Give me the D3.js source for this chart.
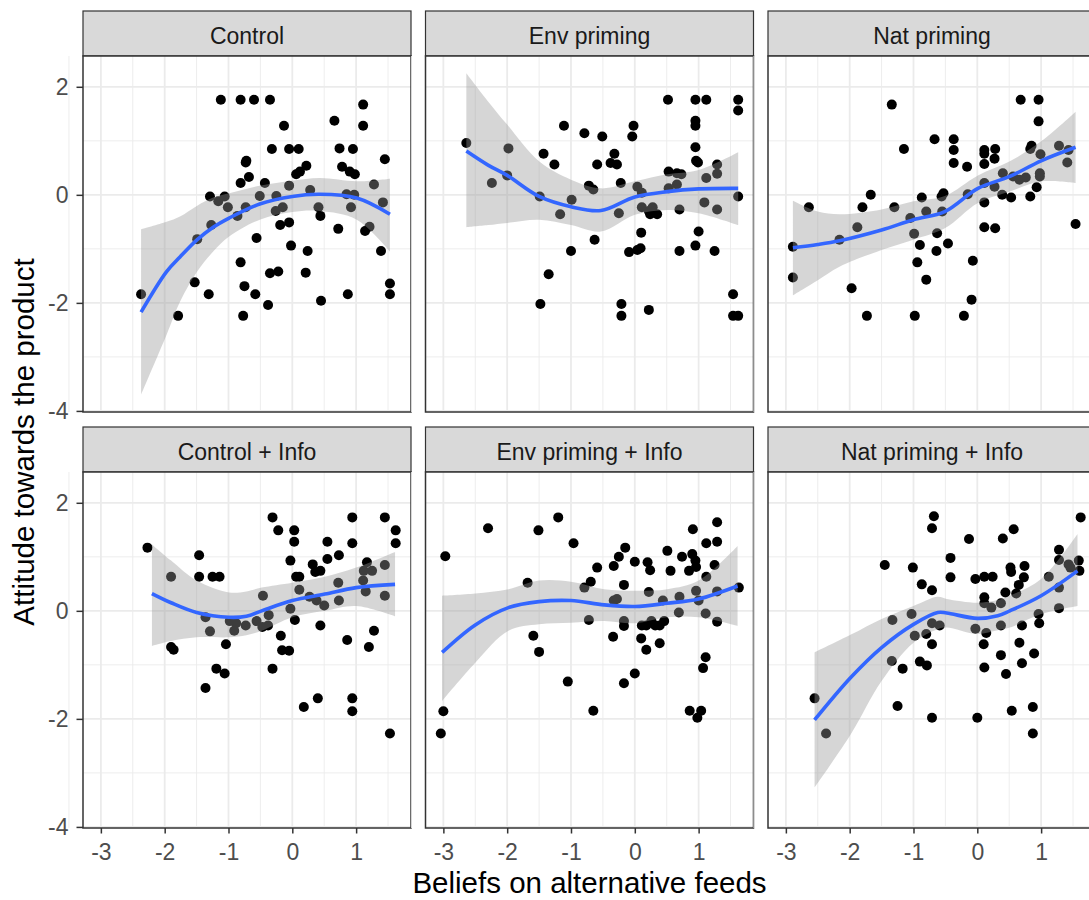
<!DOCTYPE html>
<html>
<head>
    <meta charset="utf-8">
    <title>Attitude vs beliefs, faceted</title>
    <script type="text/javascript" src="https://d3js.org/d3.v7.min.js"></script>
    <style>
        body { margin: 0; background: white; }
        .canvas { font-family: "Liberation Sans", Arial, sans-serif; background-color: white; }
    </style>
</head>
<body>
    <svg class="canvas" width="1089" height="900"></svg>
    <script type="text/javascript">
        // facet titles, in facet_wrap order
        const facets = ["Control", "Env priming", "Nat priming",
                        "Control + Info", "Env priming + Info", "Nat priming + Info"];

        const xTicks = [-3, -2, -1, 0, 1];
        const yTicks = [-4, -2, 0, 2];

        // raw points [belief, attitude]
        const ptsControl = [[-2.37,-1.84],[-1.79,-2.24],[-1.53,-1.62],[-1.31,-1.84],[-1.49,-0.82],[-1.27,-0.56],[-1.29,-0.03],[-1.16,-0.12],[-1.06,-0.03],[-1.01,-0.23],
            [-1.12,1.76],[-0.81,1.76],[-0.60,1.76],[-0.35,1.76],[-0.72,0.63],[-0.73,0.60],[-0.68,0.33],[-0.81,0.22],[-0.86,-0.39],[-0.73,-0.23],
            [-0.56,-0.80],[-0.81,-1.25],[-0.75,-1.69],[-0.58,-1.84],[-0.77,-2.24],[-0.38,-2.04],[-0.35,-1.45],[-0.22,-1.42],[-0.43,0.22],[-0.51,-0.02],
            [-0.32,0.85],[-0.13,1.28],[-0.25,-0.02],[-0.26,-0.30],[-0.15,-0.23],[-0.19,-0.56],[-0.05,-0.51],[-0.05,0.85],[0.10,0.85],[-0.05,0.17],
            [-0.02,-0.94],[0.06,0.38],[0.12,0.43],[0.22,0.54],[0.24,-1.04],[0.21,-1.44],[0.28,0.09],[0.41,-0.23],[0.44,-0.39],[0.45,-1.96],
            [0.66,1.37],[0.74,0.86],[0.78,0.52],[0.90,0.43],[0.98,0.38],[0.95,0.85],[0.72,-0.63],[0.87,-1.84],[0.85,0.01],[0.97,0.00],
            [0.92,-0.23],[1.11,1.67],[1.11,1.28],[1.14,-0.67],[1.21,-0.59],[1.28,0.19],[1.42,-0.14],[1.45,0.66],[1.39,-1.04],[1.53,-1.64],[1.53,-1.84]];

        const ptsEnv = [[-2.64,0.96],[-2.24,0.22],[-1.98,0.86],[-2.00,0.36],[-1.49,-0.03],[-1.48,-2.02],[-1.43,0.76],[-1.26,0.56],[-1.35,-1.47],[-1.11,1.28],
            [-1.17,-0.36],[-0.99,-0.09],[-1.00,-1.04],[-0.79,1.14],[-0.72,0.17],[-0.65,0.10],[-0.59,0.56],[-0.51,1.08],[-0.63,-0.83],[-0.38,0.59],
            [-0.32,0.76],[-0.28,0.56],[-0.22,0.22],[-0.25,-0.34],[-0.21,-2.02],[-0.21,-2.24],[-0.09,-1.06],[0.04,-1.02],[0.09,-0.99],[-0.04,1.08],
            [-0.02,1.28],[0.04,0.15],[0.11,0.04],[0.11,-0.23],[0.10,-0.70],[0.22,-0.30],[0.28,-0.23],[0.35,-0.36],[0.24,-0.36],[0.22,-2.13],
            [0.52,1.76],[0.53,0.43],[0.66,0.40],[0.73,0.38],[0.53,0.12],[0.66,0.19],[0.70,-0.27],[0.70,-1.04],[0.95,1.76],[1.12,1.76],
            [0.95,1.37],[0.95,1.28],[0.95,0.88],[0.96,0.63],[0.99,0.60],[1.12,0.31],[1.09,-0.14],[1.00,-0.68],[0.95,-0.94],[1.25,-1.04],
            [1.29,0.56],[1.29,0.39],[1.29,-0.27],[1.62,1.76],[1.62,1.56],[1.62,-0.03],[1.54,-1.84],[1.54,-2.24],[1.62,-2.24]];

        const ptsNat = [[-2.89,-0.96],[-2.89,-1.53],[-2.64,-0.23],[-2.16,-0.83],[-1.97,-1.73],[-1.88,-0.60],[-1.80,-0.23],[-1.73,-2.24],[-1.67,0.00],[-1.34,1.67],
            [-1.30,-0.23],[-1.15,0.85],[-1.05,-0.43],[-0.99,-0.72],[-0.98,-2.24],[-0.94,-1.25],[-0.90,-0.93],[-0.87,-0.05],[-0.80,-0.31],[-0.80,-1.57],
            [-0.67,1.03],[-0.63,-0.71],[-0.64,-1.04],[-0.56,-0.03],[-0.53,0.03],[-0.55,-0.31],[-0.46,-0.90],[-0.37,1.03],[-0.37,0.83],[-0.37,0.59],
            [-0.16,0.52],[-0.15,0.01],[-0.07,-1.22],[-0.09,-1.94],[-0.21,-2.24],[0.11,0.83],[0.11,0.76],[0.11,0.57],[0.28,0.85],[0.27,0.67],
            [0.11,0.22],[0.11,-0.14],[0.11,-0.60],[0.28,-0.62],[0.40,0.40],[0.39,0.00],[0.27,0.15],[0.53,-0.05],[0.56,0.34],[0.66,0.28],
            [0.76,0.32],[0.68,1.76],[0.96,1.76],[0.96,1.36],[0.85,0.91],[0.83,0.85],[0.99,0.75],[0.98,0.40],[0.98,0.34],[0.93,0.14],
            [0.83,-0.03],[1.28,0.91],[1.43,0.83],[1.41,0.60],[1.54,-0.54]];

        const ptsControlInfo = [[-2.27,1.17],[-1.90,0.63],[-1.90,-0.67],[-1.86,-0.72],[-1.46,1.03],[-1.46,0.63],[-1.25,0.63],[-1.14,0.63],[-1.36,-0.12],[-1.29,-0.38],
            [-1.36,-1.43],[-1.19,-1.07],[-1.06,-1.16],[-1.04,-0.62],[-0.98,-0.19],[-0.91,-0.37],[-0.88,-0.23],[-0.73,-0.27],[-0.56,-0.19],[-0.46,0.28],
            [-0.47,-0.30],[-0.38,-0.27],[-0.37,-0.08],[-0.31,1.73],[-0.22,1.49],[-0.18,-0.46],[-0.16,-0.73],[-0.05,-0.74],[-0.31,-1.07],[-0.03,0.93],
            [0.03,1.49],[0.03,1.28],[0.06,0.63],[0.11,0.63],[0.11,0.39],[-0.03,0.04],[0.04,-0.17],[0.18,-1.78],[0.27,0.26],[0.32,0.86],
            [0.36,0.72],[0.44,0.74],[0.38,0.19],[0.50,0.10],[0.44,-0.27],[0.40,-1.62],[0.55,1.28],[0.55,0.96],[0.73,1.03],[0.72,0.52],
            [0.73,0.19],[0.86,-0.54],[0.94,1.73],[0.94,1.25],[0.94,-1.62],[0.94,-1.86],[1.17,0.90],[1.12,0.74],[1.25,0.74],[1.11,0.56],
            [1.15,0.36],[1.20,-0.67],[1.28,-0.37],[1.45,1.73],[1.45,0.85],[1.45,0.28],[1.62,1.49],[1.62,1.25],[1.53,-2.27]];

        const ptsEnvInfo = [[-2.97,1.01],[-3.00,-1.86],[-3.04,-2.27],[-2.30,1.53],[-1.68,0.52],[-1.59,-0.46],[-1.50,-0.76],[-1.51,1.49],[-1.20,1.73],[-0.96,1.25],
            [-1.05,-1.31],[-0.79,0.43],[-0.72,-0.17],[-0.69,0.54],[-0.59,0.80],[-0.65,-1.85],[-0.34,-0.48],[-0.33,0.83],[-0.28,0.22],[-0.33,0.19],
            [-0.25,1.00],[-0.15,1.17],[-0.17,0.48],[-0.17,-0.19],[-0.17,-0.28],[-0.17,-1.34],[0.00,-1.16],[0.00,0.91],[0.10,-0.51],[0.11,-0.27],
            [0.18,-0.27],[0.22,0.35],[0.20,0.90],[0.24,0.75],[0.18,-0.72],[0.26,-0.19],[0.32,-0.27],[0.39,-0.27],[0.46,-0.19],[0.39,-0.60],
            [0.44,0.19],[0.51,1.11],[0.56,0.74],[0.69,-0.03],[0.70,0.26],[0.74,1.00],[0.85,0.74],[0.90,1.05],[0.95,0.93],[0.96,0.81],
            [0.91,1.51],[0.96,0.37],[1.00,0.19],[1.11,-0.05],[1.12,0.63],[1.12,1.25],[1.29,1.64],[1.29,1.28],[1.25,0.85],[1.29,0.36],
            [1.29,-0.20],[1.11,-0.86],[1.07,-1.06],[0.86,-1.85],[0.98,-1.98],[1.04,-1.85],[1.63,0.43]];

        const ptsNatInfo = [[-2.55,-1.62],[-2.37,-2.27],[-1.45,0.85],[-1.33,-0.17],[-1.34,-0.93],[-1.17,-1.07],[-1.25,-1.76],[-1.03,-0.06],[-1.01,0.80],[-0.98,-0.46],
            [-0.90,-0.94],[-0.79,-1.01],[-0.87,0.49],[-0.80,-0.43],[-0.71,0.38],[-0.71,-0.23],[-0.59,-0.27],[-0.71,-0.62],[-0.71,-1.98],[-0.68,1.75],
            [-0.71,1.53],[-0.42,0.98],[-0.42,0.62],[-0.13,1.33],[-0.03,-0.33],[0.00,-1.98],[-0.03,0.59],[0.11,0.63],[0.24,0.63],[0.11,0.25],
            [0.11,0.14],[0.22,0.06],[0.14,-0.41],[0.10,-0.62],[0.11,-1.05],[0.37,0.14],[0.37,-0.27],[0.37,-0.82],[0.45,-1.17],[0.40,1.34],
            [0.57,1.51],[0.52,0.80],[0.53,0.72],[0.74,0.83],[0.73,0.62],[0.65,0.48],[0.44,0.34],[0.61,0.32],[0.70,-0.27],[0.66,-0.59],
            [0.70,-0.97],[0.54,-1.85],[0.89,-0.79],[0.87,-1.78],[0.87,-2.27],[0.96,-0.06],[0.97,-0.23],[1.12,0.63],[1.28,1.13],[1.28,0.94],
            [1.43,0.86],[1.46,0.80],[1.59,0.93],[1.60,0.74],[1.62,1.73],[1.28,0.43],[1.28,0.05]];

        // loess fit: [belief, fit, lower, upper]
        const fitControl = [[-2.37,-2.17,-3.70,-0.64],[-1.97,-1.42,-2.59,-0.50],[-1.76,-1.15,-1.98,-0.40],[-1.49,-0.83,-1.42,-0.20],
            [-1.24,-0.60,-1.05,-0.05],[-0.99,-0.43,-0.77,0.03],[-0.51,-0.17,-0.46,0.17],[0.00,-0.03,-0.32,0.26],
            [0.43,0.01,-0.30,0.31],[1.01,-0.06,-0.46,0.25],[1.53,-0.36,-1.05,0.30]];
        const fitEnv = [[-2.64,0.81,-0.60,2.25],[-2.30,0.55,-0.56,1.73],[-2.00,0.36,-0.52,1.30],[-1.50,-0.03,-0.46,0.62],
            [-1.00,-0.22,-0.56,0.28],[-0.53,-0.29,-0.68,0.12],[0.00,-0.04,-0.37,0.25],[0.51,0.06,-0.28,0.38],
            [1.00,0.11,-0.34,0.46],[1.62,0.12,-0.56,0.79]];
        const fitNat = [[-2.89,-0.98,-1.86,-0.11],[-2.50,-0.92,-1.58,-0.31],[-2.16,-0.85,-1.33,-0.36],[-1.50,-0.65,-1.02,-0.27],
            [-1.00,-0.46,-0.83,-0.12],[-0.51,-0.31,-0.62,-0.02],[0.01,0.12,-0.15,0.36],[0.51,0.34,0.06,0.62],
            [1.00,0.63,0.25,0.99],[1.54,0.88,0.22,1.54]];
        const fitControlInfo = [[-2.20,0.32,-0.65,1.23],[-1.90,0.15,-0.56,0.93],[-1.50,-0.03,-0.49,0.56],[-0.99,-0.12,-0.49,0.34],
            [-0.72,-0.10,-0.45,0.36],[-0.48,0.00,-0.37,0.43],[0.00,0.19,-0.12,0.52],[0.51,0.31,0.00,0.63],
            [1.00,0.43,0.09,0.80],[1.61,0.49,-0.10,1.09]];
        const fitEnvInfo = [[-3.02,-0.77,-1.67,0.28],[-2.50,-0.26,-0.96,0.32],[-1.98,0.06,-0.37,0.40],[-1.50,0.17,-0.25,0.56],
            [-1.00,0.19,-0.22,0.54],[-0.48,0.11,-0.19,0.40],[0.00,0.08,-0.23,0.37],[0.51,0.14,-0.12,0.40],
            [1.00,0.22,-0.12,0.56],[1.61,0.46,-0.28,1.20]];
        const fitNatInfo = [[-2.55,-2.02,-3.27,-0.77],[-1.98,-1.23,-2.28,-0.44],[-1.50,-0.68,-1.30,-0.15],[-1.00,-0.25,-0.59,0.09],
            [-0.62,-0.03,-0.34,0.26],[-0.48,-0.04,-0.31,0.22],[0.00,-0.14,-0.43,0.15],[0.32,-0.09,-0.36,0.20],
            [0.51,0.00,-0.31,0.28],[1.00,0.28,-0.06,0.59],[1.57,0.74,0.09,1.42]];

        const points = [ptsControl, ptsEnv, ptsNat, ptsControlInfo, ptsEnvInfo, ptsNatInfo];
        const fits = [fitControl, fitEnv, fitNat, fitControlInfo, fitEnvInfo, fitNatInfo];

        // layout (ggplot-ish theme_bw)
        var panelW = 328, panelH = 356, stripH = 45
        var left0 = 83, top0 = 11, colStep = 342.5, rowStep = 416
        var fontStack = '"Liberation Sans", Arial, sans-serif'

        const x = d3.scaleLinear().domain([-3.28, 1.86]).range([0, panelW]);
        const y = d3.scaleLinear().domain([-4.02, 2.57]).range([panelH, 0]);

        const svg = d3.select('.canvas');

        const line = d3.line().x(d => x(d[0])).y(d => y(d[1])).curve(d3.curveCatmullRom);
        const band = d3.area().x(d => x(d[0])).y0(d => y(d[2])).y1(d => y(d[3])).curve(d3.curveCatmullRom);

        facets.forEach((name, i) => {
            const col = i % 3, row = Math.floor(i / 3);
            const g = svg.append('g')
                .attr('transform', `translate(${left0 + col * colStep},${top0 + row * rowStep})`);

            // strip
            g.append('rect')
                .attr('width', panelW).attr('height', stripH)
                .attr('fill', '#d9d9d9').attr('stroke', '#333333').attr('stroke-width', 1.2);
            g.append('text')
                .attr('x', panelW / 2).attr('y', 32.5)
                .attr('text-anchor', 'middle')
                .style('font-family', fontStack).style('font-size', '23px')
                .attr('fill', '#1a1a1a')
                .text(name);

            const p = g.append('g').attr('transform', `translate(0,${stripH})`);
            p.append('rect').attr('width', panelW).attr('height', panelH).attr('fill', 'white');

            // minor grid
            p.selectAll('.vminor').data([-3.5, -2.5, -1.5, -0.5, 0.5, 1.5]).enter().append('line')
                .attr('x1', d => x(d)).attr('x2', d => x(d)).attr('y1', 0).attr('y2', panelH)
                .attr('stroke', '#ebebeb').attr('stroke-width', 0.9);
            p.selectAll('.hminor').data([-3, -1, 1]).enter().append('line')
                .attr('y1', d => y(d)).attr('y2', d => y(d)).attr('x1', 0).attr('x2', panelW)
                .attr('stroke', '#ebebeb').attr('stroke-width', 0.9);
            // major grid
            p.selectAll('.vmajor').data(xTicks).enter().append('line')
                .attr('x1', d => x(d)).attr('x2', d => x(d)).attr('y1', 0).attr('y2', panelH)
                .attr('stroke', '#ebebeb').attr('stroke-width', 1.8);
            p.selectAll('.hmajor').data(yTicks).enter().append('line')
                .attr('y1', d => y(d)).attr('y2', d => y(d)).attr('x1', 0).attr('x2', panelW)
                .attr('stroke', '#ebebeb').attr('stroke-width', 1.8);

            // points, then the smoother on top
            p.selectAll('.dot').data(points[i]).enter().append('circle')
                .attr('cx', d => x(d[0])).attr('cy', d => y(d[1]))
                .attr('r', 5).attr('fill', 'black');

            p.append('path').datum(fits[i]).attr('d', band)
                .attr('fill', '#999999').attr('fill-opacity', 0.4);
            p.append('path').datum(fits[i]).attr('d', line)
                .attr('fill', 'none').attr('stroke', '#3366FF').attr('stroke-width', 3.6);

            p.append('rect').attr('width', panelW).attr('height', panelH)
                .attr('fill', 'none').attr('stroke', '#333333').attr('stroke-width', 1.5);

            // axes only on the outer panels
            if (col === 0) {
                const ay = p.append('g').call(d3.axisLeft(y).tickValues(yTicks).tickSize(6.5).tickPadding(8).tickFormat(d => String(d)));
                ay.select('.domain').remove();
                ay.selectAll('line').attr('stroke', '#333333').attr('stroke-width', 1.5);
                ay.selectAll('text').attr('fill', '#4d4d4d').style('font-family', fontStack).style('font-size', '23px');
            }
            if (row === 1) {
                const ax = p.append('g').attr('transform', `translate(0,${panelH})`)
                    .call(d3.axisBottom(x).tickValues(xTicks).tickSize(5.5).tickPadding(10).tickFormat(d => String(d)));
                ax.select('.domain').remove();
                ax.selectAll('line').attr('stroke', '#333333').attr('stroke-width', 1.5);
                ax.selectAll('text').attr('fill', '#4d4d4d').style('font-family', fontStack).style('font-size', '23px');
            }
        });

        // axis titles
        svg.append('text')
            .attr('x', 589.5).attr('y', 893)
            .attr('text-anchor', 'middle')
            .style('font-family', fontStack).style('font-size', '29.5px')
            .text('Beliefs on alternative feeds');

        svg.append('text')
            .attr('transform', 'translate(34,442) rotate(-90)')
            .attr('text-anchor', 'middle')
            .style('font-family', fontStack).style('font-size', '29.5px')
            .text('Attitude towards the product');
    </script>
</body>
</html>
